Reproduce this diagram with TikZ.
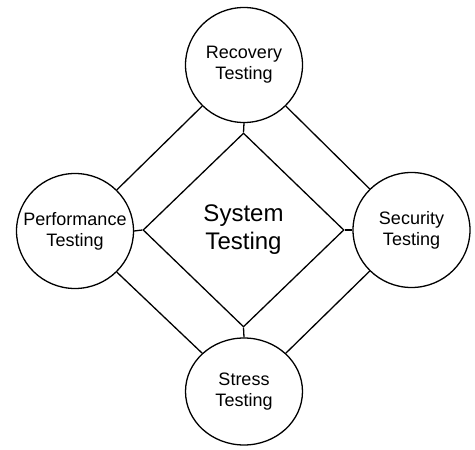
\documentclass[tikz,border=0pt]{standalone}
\usepackage{fontspec}
\setmainfont{Liberation Sans}
\usetikzlibrary{
  positioning,
  shapes.geometric
}

\begin{document}
\begin{tikzpicture}[
  x=1pt, y=1pt,
  every node/.style={font=\fontsize{18}{21}\selectfont},
  test/.style={draw, ellipse, line width=1.3pt, minimum width=117pt,
               minimum height=115pt, inner xsep=-12pt, inner ysep=0pt,
               align=center},
  core/.style={draw, diamond, line width=1.3pt, minimum width=201pt,
               minimum height=194pt, inner sep=0pt, align=center,
               font=\fontsize{24}{28}\selectfont},
  link/.style={line width=1.3pt}
]
\useasboundingbox (0,0) rectangle (475,450);

\node[core] (sys) at (243.5, 220) {System\\Testing};

\node[test] (rec)  at (244, 385)   {Recovery\\Testing};
\node[test] (perf) at (75, 219)    {Performance\\Testing};
\node[test] (sec)  at (411.5, 220) {Security\\Testing};
\node[test, minimum height=107pt] (str) at (244, 58.5) {Stress\\Testing};

% stubs between the diamond and the circles
\draw[link] (sys.north) -- (rec.south);
\draw[link] (sys.west)  -- (perf.east);
\draw[link] (sys.east)  -- (sec.west);
\draw[link] (sys.south) -- (str.north);

% outer ring
\draw[link] (rec.south west)  -- (perf.north east);
\draw[link] (rec.south east)  -- (sec.north west);
\draw[link] (perf.south east) -- (str.north west);
\draw[link] (sec.south west)  -- (str.north east);

\end{tikzpicture}
\end{document}
